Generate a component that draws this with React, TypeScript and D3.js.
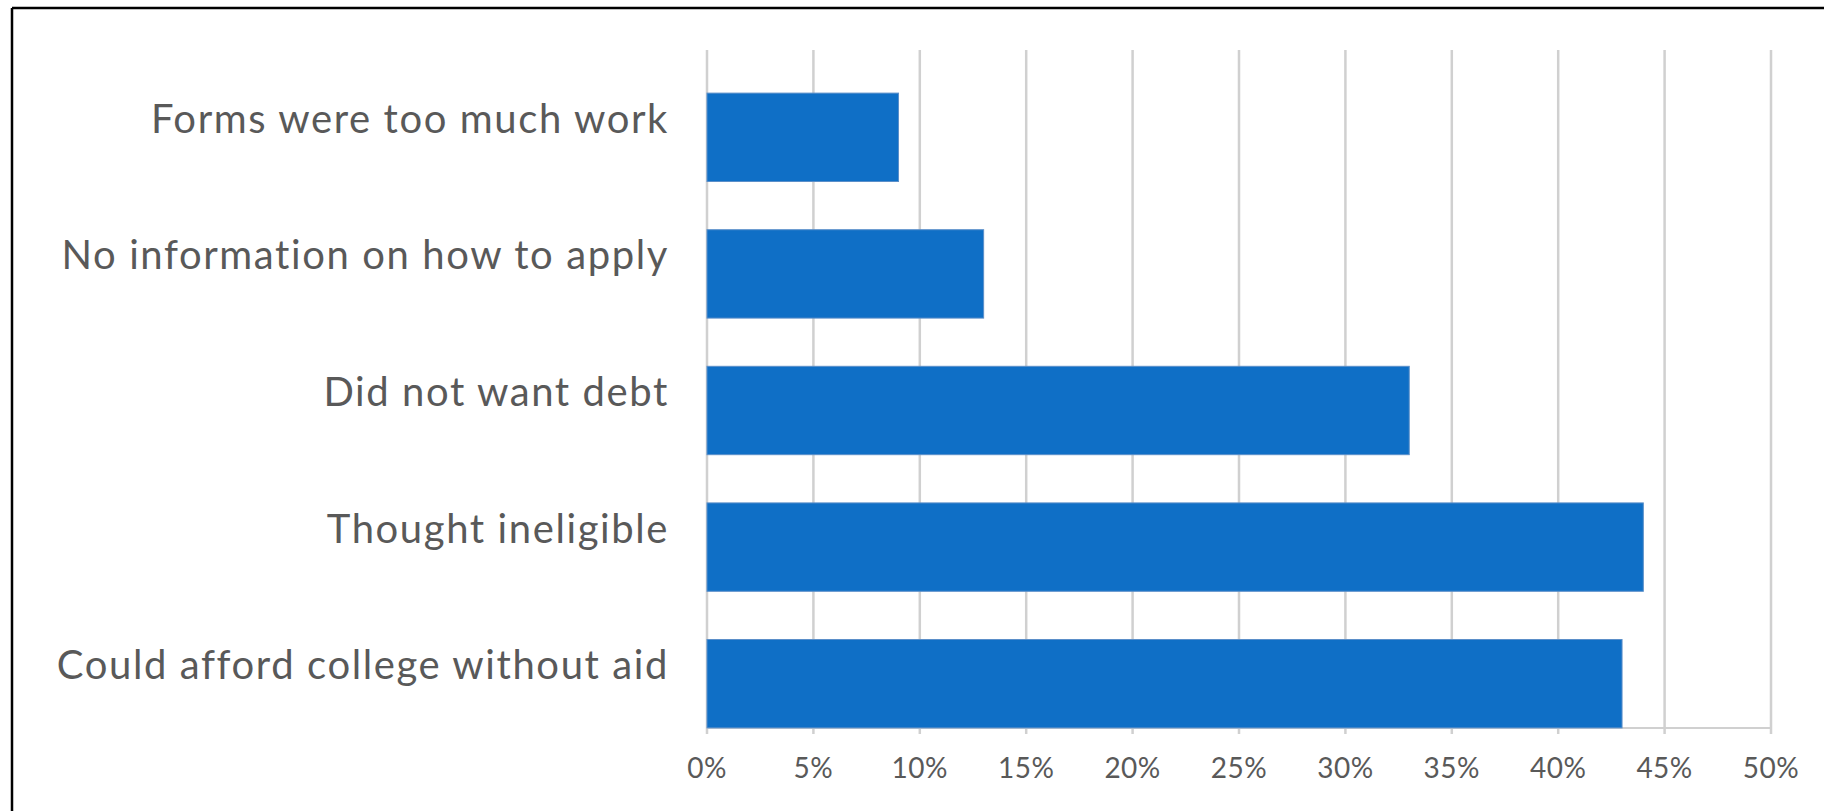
import React from "react";
import * as d3 from "d3";

const categories = [
  "Forms were too much work",
  "No information on how to apply",
  "Did not want debt",
  "Thought ineligible",
  "Could afford college without aid",
];
const values = [9, 13, 33, 44, 43];
const ticks = [0, 5, 10, 15, 20, 25, 30, 35, 40, 45, 50];

const W = 1824;
const H = 811;

export default function App() {
  const x = d3.scaleLinear().domain([0, 50]).range([707, 1771]);
  const yBar = d3
    .scaleBand<string>()
    .domain(categories)
    .range([69, 752])
    .paddingInner(0.353)
    .paddingOuter(0.1765);
  const yLab = d3
    .scaleBand<string>()
    .domain(categories)
    .range([50, 733])
    .paddingInner(0.353)
    .paddingOuter(0.1765);
  const plotTop = 50;
  const axisY = 728;
  const font = "Lato, 'Open Sans', sans-serif";

  return (
    <svg
      width={W}
      height={H}
      style={{ position: "absolute", left: 0, top: 0, background: "#fff" }}
    >
      <rect x={0} y={0} width={W} height={H} fill="#fff" />
      {ticks.map((t) => (
        <line
          key={"g" + t}
          x1={x(t)}
          x2={x(t)}
          y1={plotTop}
          y2={axisY + 6}
          stroke="#D0D0D0"
          strokeWidth={2.5}
        />
      ))}
      <line x1={x(0)} x2={x(50)} y1={axisY} y2={axisY} stroke="#D0D0D0" strokeWidth={2} />
      {categories.map((c, i) => (
        <rect
          key={c}
          x={x(0)}
          y={yBar(c)}
          width={x(values[i]) - x(0)}
          height={yBar.bandwidth()}
          fill="#0F6FC6"
          stroke="#5B8FC9"
          strokeWidth={1}
        />
      ))}
      {categories.map((c) => (
        <text
          key={"l" + c}
          x={669}
          y={(yLab(c) as number) + yLab.bandwidth() / 2}
          dy="0.36em"
          textAnchor="end"
          fontFamily={font}
          fontSize={40}
          letterSpacing={1.6}
          fill="#595959"
        >
          {c}
        </text>
      ))}
      {ticks.map((t) => (
        <text
          key={"t" + t}
          x={x(t)}
          y={768}
          dy="0.36em"
          textAnchor="middle"
          fontFamily={font}
          fontSize={28}
          letterSpacing={0.5}
          fill="#595959"
        >
          {t + "%"}
        </text>
      ))}
      <line x1={12} x2={W} y1={8} y2={8} stroke="#000" strokeWidth={2.5} />
      <line x1={12} x2={12} y1={8} y2={H} stroke="#000" strokeWidth={2.5} />
    </svg>
  );
}
